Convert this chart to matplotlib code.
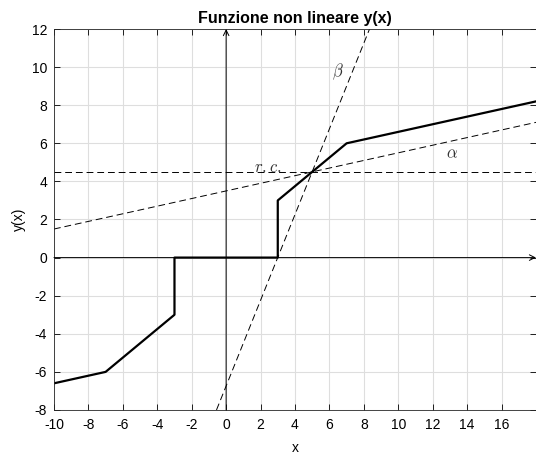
import matplotlib
matplotlib.use('Agg')
import matplotlib.pyplot as plt
import numpy as np

# piecewise nonlinear characteristic y(x)
x_fun = [-10, -7, -3, -3, 3, 3, 7, 18]
y_fun = [-6.6, -6, -3, 0, 0, 3, 6, 8.2]

# reference lines through the working point
x_range = [-10, 18]
y_rc = [4.5, 4.5]            # r.c.
y_alpha = [1.5, 7.1]         # alpha line
x_beta = [-0.56, 8.33]
y_beta = [-8, 12]            # beta line

xticks = [-10, -8, -6, -4, -2, 0, 2, 4, 6, 8, 10, 12, 14, 16]
yticks = [-8, -6, -4, -2, 0, 2, 4, 6, 8, 10, 12]

plt.rcParams['font.family'] = ['Liberation Sans', 'DejaVu Sans']
plt.rcParams['mathtext.fontset'] = 'cm'
plt.rcParams['axes.unicode_minus'] = False

fig = plt.figure(figsize=(5.36, 4.59), dpi=100)
ax = fig.add_axes([0.1007, 0.1068, 0.8993, 0.83])

ax.set_xlim(-10, 18)
ax.set_ylim(-8, 12)
ax.set_xticks(xticks)
ax.set_yticks(yticks)
ax.grid(True, color='#dedede', linewidth=0.8)
ax.set_axisbelow(True)
ax.tick_params(direction='in', top=True, right=True, labelsize=10, length=4, width=0.6)
ax.tick_params(axis='x', pad=6)
ax.tick_params(axis='y', pad=5)
for s in ax.spines.values():
    s.set_linewidth(0.6)
    s.set_color('#262626')

dash = (0, (7, 4))
ax.plot(x_range, y_rc, color='k', lw=0.7, linestyle=dash)
ax.plot(x_range, y_alpha, color='k', lw=0.7, linestyle=dash)
ax.plot(x_beta, y_beta, color='k', lw=0.7, linestyle=dash)

# coordinate axes with arrow heads
ax.annotate('', xy=(18, 0), xytext=(-10, 0),
            arrowprops=dict(arrowstyle='->', color='k', lw=0.7, shrinkA=0, shrinkB=0))
ax.annotate('', xy=(0, 12), xytext=(0, -8),
            arrowprops=dict(arrowstyle='->', color='k', lw=0.7, shrinkA=0, shrinkB=0))

ax.plot(x_fun, y_fun, color='k', lw=1.6)

ax.text(2.4, 4.75, r'$r.c.$', fontsize=12, color='#333333', ha='center', va='center')
ax.text(6.5, 9.75, r'$\beta$', fontsize=12, color='#333333', ha='center', va='center')
ax.text(13.1, 5.45, r'$\alpha$', fontsize=12, color='#333333', ha='center', va='center')

ax.set_xlabel('x', fontsize=10, labelpad=6)
ax.set_ylabel('y(x)', fontsize=10, labelpad=4)
ax.set_title('Funzione non lineare y(x)', fontsize=11.5, fontweight='bold', pad=4)

fig.savefig('out.png', dpi=100)
